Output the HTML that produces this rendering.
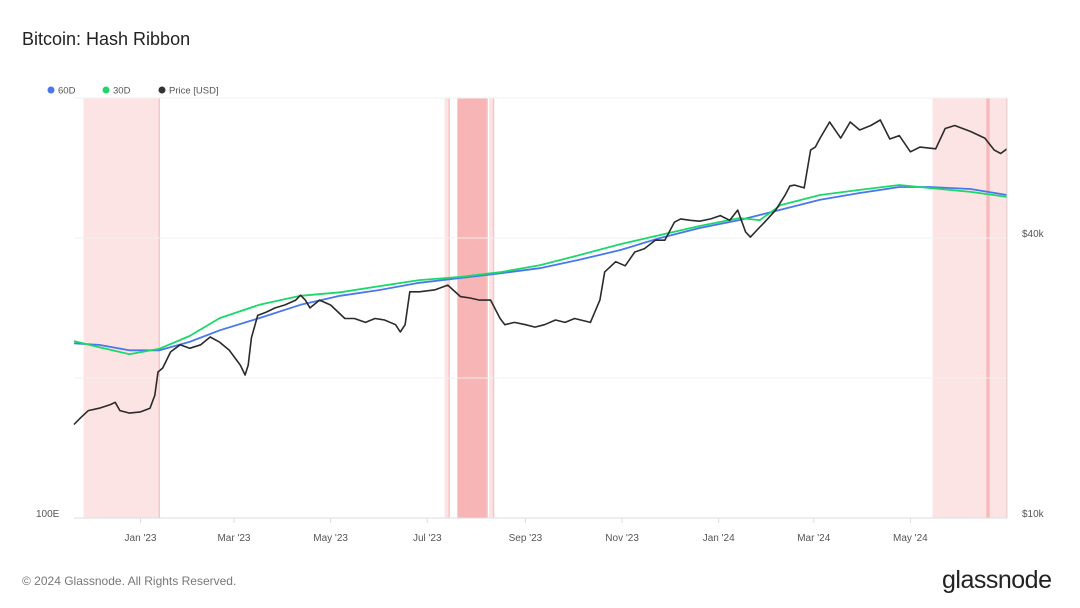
<!DOCTYPE html>
<html><head><meta charset="utf-8"><style>
body{margin:0;background:#fff;font-family:"Liberation Sans",sans-serif;}
#w{position:relative;width:1080px;height:608px;overflow:hidden;}
</style></head><body>
<div id="w">
<svg id="s" width="1080" height="608">
<text x="22" y="45" font-size="18" fill="#222">Bitcoin: Hash Ribbon</text>
<g>
<g><circle cx="51" cy="90" r="3.5" fill="#4a76f0"/><text x="58" y="93.5" font-size="9.5" fill="#555">60D</text></g>
<g><circle cx="106" cy="90" r="3.5" fill="#1ad86a"/><text x="113" y="93.5" font-size="9.5" fill="#555">30D</text></g>
<g><circle cx="162" cy="90" r="3.5" fill="#333"/><text x="169" y="93.5" font-size="9.5" fill="#555">Price [USD]</text></g>
</g>
<g id="bands"></g>
<g id="grid"></g>
<g id="lines"></g>
<g id="axes"></g>
<text x="22" y="585" font-size="12" fill="#777">© 2024 Glassnode. All Rights Reserved.</text>
<text x="942" y="588" font-size="25" fill="#222" letter-spacing="-0.5">glassnode</text>
</svg>
</div>
<script>
const priceDays=[0,4,9,16,23,26,29,35,42,48,51,53,56,61,67,73,80,86,92,98,105,108,110,112,116,121,127,133,140,143,146,149,155,162,171,177,184,190,196,203,206,209,212,218,228,236,244,250,256,263,269,272,278,285,291,297,304,310,316,326,332,335,342,348,354,360,367,373,379,383,389,395,402,408,414,419,424,427,433,436,443,449,452,455,461,465,468,471,477,484,490,496,503,509,515,521,528,534,544,550,556,566,575,581,585,589];
const priceVals=[15.5,16.0,16.6,16.8,17.1,17.3,16.6,16.4,16.5,16.8,17.9,20.1,20.5,22.2,23.0,22.6,23.0,23.9,23.3,22.4,20.8,19.8,20.8,23.8,26.6,27.0,27.6,28.0,28.7,29.4,28.7,27.6,28.7,28.0,26.2,26.2,25.7,26.2,26.0,25.4,24.5,25.4,29.9,29.9,30.2,30.9,29.2,29.0,28.7,28.7,26.2,25.4,25.7,25.4,25.1,25.4,26.0,25.7,26.2,25.7,28.7,33.0,34.7,34.0,36.4,37.0,38.6,38.6,42.2,42.9,42.6,42.4,42.9,43.6,42.6,44.8,40.2,39.2,41.2,42.2,44.8,48.3,50.5,50.7,50.0,60.3,61.2,64.0,69.3,64.0,69.3,66.6,68.1,70.0,63.7,64.8,59.8,61.2,60.7,67.1,68.1,66.1,64.0,60.3,59.3,60.7];
const hashDays60=[0,16,35,54,73,92,117,143,168,193,218,244,269,294,319,345,370,395,420,446,471,496,521,540,566,589];
const hash60=[248,246,239,239,250,266,284,305,320,330,343,352,361,371,388,409,436,460,480,507,535,555,573,573,567,549];
const hashDays30=[0,16,35,54,73,92,117,143,168,193,218,244,269,294,319,345,370,395,420,433,446,471,496,521,540,566,585,589];
const hash30=[251,243,234,241,258,284,305,320,326,337,348,354,363,377,398,422,443,465,485,480,520,549,564,579,570,558,546,543];
const bandStart=[6,234,242,262,542,576];
const bandEnd=[54,237,261,265,589,578];
const bandDark=[0,0,1,0,0,1];
const monthTicks=["Jan '23","Mar '23","May '23","Jul '23","Sep '23","Nov '23","Jan '24","Mar '24","May '24"];
const monthTickDays=[42,101,162,223,285,346,407,467,528];
const priceTicks=[10000,40000];
const priceTickLabels=["$10k","$40k"];

const X0=74,X1=1007,DMAX=589,YT=98,YB=518;
const x=d=>X0+(X1-X0)*d/DMAX;
const yP=p=>513-280*Math.log(p/10000)/Math.log(4);
const yH=h=>513-430*Math.log10(h/100);
const NS="http://www.w3.org/2000/svg";
function mk(t,a,par){const e=document.createElementNS(NS,t);for(const k in a)e.setAttribute(k,a[k]);document.getElementById(par).appendChild(e);return e;}

bandStart.forEach((s,i)=>{
 const r=mk('rect',{x:x(s),y:YT,width:Math.max(1.5,x(bandEnd[i])-x(s)),height:YB-YT,fill:bandDark[i]?'#f7b5b5':'#fde4e4'},'bands');
 
 
 const l=mk('rect',{x:x(bandEnd[i])-1,y:YT,width:1.5,height:YB-YT,fill:'#f9c6c6'},'bands');
 
 
});
[98,238,378].forEach(v=>{const g=mk('line',{x1:X0,x2:X1,y1:v,y2:v,stroke:'#f0f0f0'},'grid');
 
 });
const ax=mk('line',{x1:X0,x2:X1,y1:YB,y2:YB,stroke:'#ddd'},'axes');


const ra=mk('line',{x1:X1,x2:X1,y1:YT,y2:YB,stroke:'#ddd'},'axes');


monthTicks.forEach((m,i)=>{
 const tk=mk('line',{x1:x(monthTickDays[i]),x2:x(monthTickDays[i]),y1:YB,y2:YB+5,stroke:'#ddd'},'axes');
 
 
 const t=mk('text',{x:x(monthTickDays[i]),y:541,'font-size':10,fill:'#555','text-anchor':'middle'},'axes');
 t.textContent=m;
 
 
});
priceTicks.forEach((p,i)=>{
 const t=mk('text',{x:1022,y:yP(p)+4,'font-size':10,fill:'#555'},'axes');
 t.textContent=priceTickLabels[i];
 
 
});
const hl=mk('text',{x:36,y:517,'font-size':10,fill:'#555'},'axes');
hl.textContent='100E';



function path(ds,vs,yf,col,w,name){
 const d=ds.map((v,i)=>(i?'L':'M')+x(v).toFixed(1)+' '+yf(vs[i]).toFixed(1)).join('');
 const p=mk('path',{d:d,fill:'none',stroke:col,'stroke-width':w,'stroke-linejoin':'round'},'lines');
 
 
}
path(hashDays60,hash60,yH,'#4a76f0',1.8,'line-60d');
path(hashDays30,hash30,yH,'#1ad86a',1.8,'line-30d');
path(priceDays,priceVals.map(v=>v*1000),yP,'#2b2b2b',1.6,'line-price');
</script>
</body></html>
